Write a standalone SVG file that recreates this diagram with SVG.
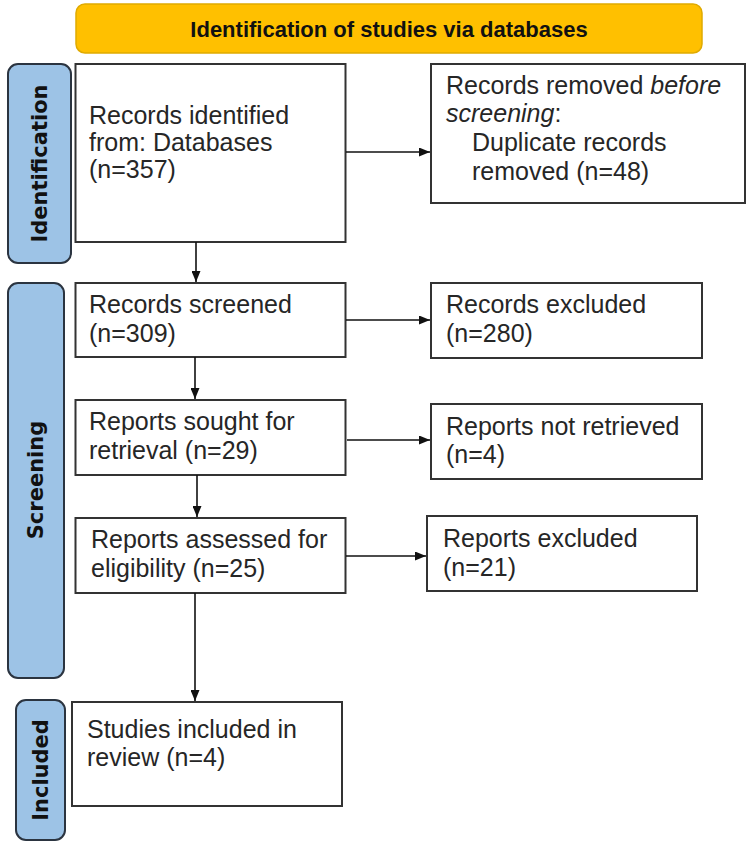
<svg xmlns="http://www.w3.org/2000/svg" width="750" height="853" viewBox="0 0 750 853">
<style>
.box{fill:#fff;stroke:#333;stroke-width:2}
.phase{fill:#9dc3e6;stroke:#2b3440;stroke-width:2}
.t{font-family:"Liberation Sans",Arial,sans-serif;font-size:25px;fill:#262626}
.pt{font-family:"DejaVu Sans",Verdana,sans-serif;font-size:21px;font-weight:bold;fill:#111;text-anchor:middle;dominant-baseline:central}
.head{font-family:"Liberation Sans",Arial,sans-serif;font-size:22px;font-weight:bold;fill:#111;text-anchor:middle}
.c{stroke:#111;stroke-width:1.6;fill:none;marker-end:url(#ah)}
</style>
<defs>
<marker id="ah" markerUnits="userSpaceOnUse" markerWidth="11" markerHeight="9" refX="11" refY="4.5" orient="auto">
<path d="M0,0 L11,4.5 L0,9 z" fill="#111"/>
</marker>
</defs>

<g id="banner">
<rect x="76" y="4" width="626" height="49" rx="9" fill="#ffc000" stroke="#e0aa00" stroke-width="1.5"/>
<text class="head" x="389" y="37">Identification of studies via databases</text>
</g>

<g id="phase-identification">
<rect class="phase" x="8" y="64" width="63" height="199" rx="10"/>
<text class="pt" transform="translate(39.5,163.5) rotate(-90)">Identification</text>
</g>
<g id="phase-screening">
<rect class="phase" x="8" y="283" width="56" height="395" rx="10"/>
<text class="pt" transform="translate(36,480) rotate(-90)">Screening</text>
</g>
<g id="phase-included">
<rect class="phase" x="16" y="700" width="49" height="140" rx="10"/>
<text class="pt" transform="translate(40.5,770) rotate(-90)">Included</text>
</g>

<g id="records-identified">
<rect class="box" x="75.5" y="64" width="270" height="178"/>
<text class="t" x="89" y="124">Records identified</text>
<text class="t" x="89" y="151">from: Databases</text>
<text class="t" x="89" y="178">(n=357)</text>
</g>
<g id="records-removed">
<rect class="box" x="431" y="64" width="314" height="139"/>
<text class="t" x="446" y="94">Records removed <tspan font-style="italic">before</tspan></text>
<text class="t" x="446" y="122"><tspan font-style="italic">screening</tspan>:</text>
<text class="t" x="472" y="151">Duplicate records</text>
<text class="t" x="472" y="180">removed (n=48)</text>
</g>
<g id="records-screened">
<rect class="box" x="75.5" y="283" width="270" height="74"/>
<text class="t" x="89" y="313">Records screened</text>
<text class="t" x="89" y="342">(n=309)</text>
</g>
<g id="records-excluded">
<rect class="box" x="431" y="283" width="271" height="75"/>
<text class="t" x="446" y="313">Records excluded</text>
<text class="t" x="446" y="342">(n=280)</text>
</g>
<g id="reports-sought">
<rect class="box" x="75.5" y="400" width="270" height="75"/>
<text class="t" x="89" y="430">Reports sought for</text>
<text class="t" x="89" y="459">retrieval (n=29)</text>
</g>
<g id="reports-not-retrieved">
<rect class="box" x="431" y="404" width="271" height="75"/>
<text class="t" x="446" y="435">Reports not retrieved</text>
<text class="t" x="446" y="463">(n=4)</text>
</g>
<g id="reports-assessed">
<rect class="box" x="75.5" y="518" width="270" height="75"/>
<text class="t" x="91" y="548">Reports assessed for</text>
<text class="t" x="91" y="577">eligibility (n=25)</text>
</g>
<g id="reports-excluded">
<rect class="box" x="427" y="516" width="270" height="75"/>
<text class="t" x="443" y="547">Reports excluded</text>
<text class="t" x="443" y="576">(n=21)</text>
</g>
<g id="studies-included">
<rect class="box" x="72" y="702" width="270" height="104"/>
<text class="t" x="87" y="738">Studies included in</text>
<text class="t" x="87" y="766">review (n=4)</text>
</g>

<g id="connectors">
<line class="c" x1="346" y1="152" x2="430" y2="152"/>
<line class="c" x1="196" y1="242" x2="196" y2="282"/>
<line class="c" x1="346" y1="320" x2="430" y2="320"/>
<line class="c" x1="195" y1="357" x2="195" y2="399"/>
<line class="c" x1="347" y1="440" x2="430" y2="440"/>
<line class="c" x1="197" y1="475" x2="197" y2="517"/>
<line class="c" x1="346" y1="556" x2="426" y2="556"/>
<line class="c" x1="195" y1="593" x2="195" y2="701"/>
</g>
</svg>
